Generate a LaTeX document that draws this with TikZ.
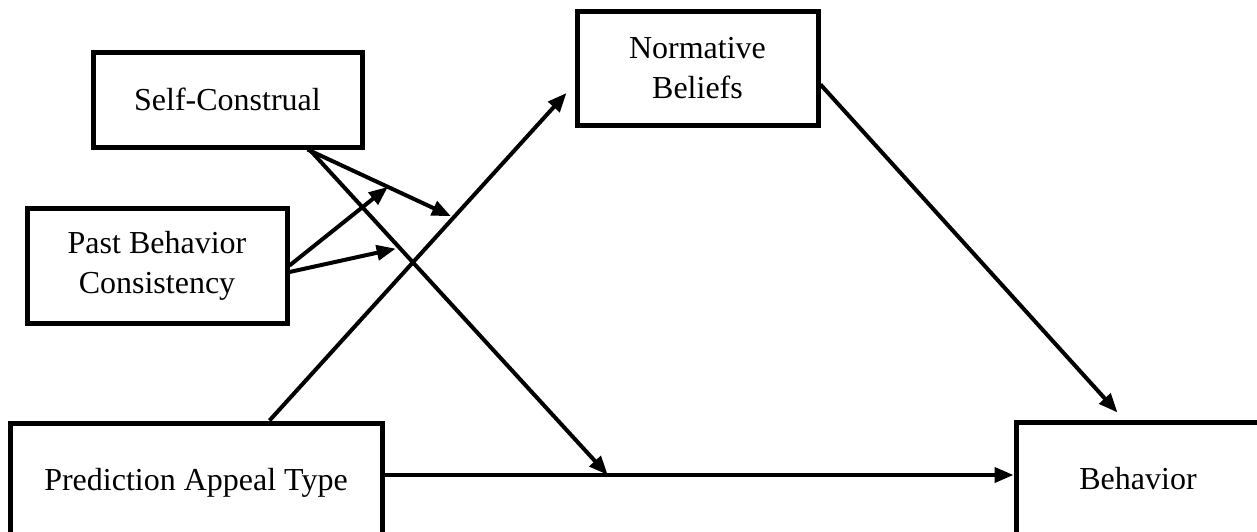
\documentclass[tikz,border=0pt]{standalone}
\usepackage{fontspec}
\setmainfont{Liberation Serif}
\usetikzlibrary{arrows.meta,calc}
\begin{document}
\begin{tikzpicture}[x=0.5pt,y=-0.5pt,
  box/.style={draw,line width=2.5pt,inner sep=0pt,align=center,font=\fontsize{16pt}{20pt}\selectfont},
  arr/.style={line width=2pt,-{Triangle[length=9.5pt,width=7.5pt]}}]
\useasboundingbox (0,0) rectangle (1257,531);
% boxes
\node[box,minimum width=134.5pt,minimum height=47.5pt] (sc) at (227.5,99.5) {Self-Construal};
\node[box,minimum width=130pt,minimum height=57.5pt] (pb) at (157,265.5) {Past Behavior\\Consistency};
\node[box,minimum width=120.5pt,minimum height=57pt] (nb) at (697.5,68) {Normative\\Beliefs};
\node[box,minimum width=186pt,minimum height=60pt] (pat) at (196,483) {\raisebox{3pt}{Prediction Appeal Type}};
\node[box,minimum width=127pt,minimum height=60pt] (b) at (1143,482) {\raisebox{3.5pt}{Behavior}\hspace*{5pt}};
% anchor points on boxes
\coordinate (pat1) at ($(pat.north west)+(262,0)$);
\coordinate (nbtip) at ($(nb.west)+(-8,25)$);
\coordinate (nb1) at ($(nb.north east)+(0,76)$);
\coordinate (btip) at ($(b.north west)+(104,-7)$);
\coordinate (h1) at ($(pat.east)+(0,-8)$);
\coordinate (sc1) at ($(sc.south west)+(217,0)$);
\coordinate (sc2) at ($(sc.south west)+(219,0)$);
\coordinate (pb1) at (pb.east);
\coordinate (pb2) at ($(pb.east)+(0,6.5)$);
% main paths
\draw[arr] (pat1) -- (nbtip);
\draw[arr] (nb1) -- (btip);
\draw[arr] (h1) -- (h1 -| b.west);
% moderation points
\path (pat1) -- (nbtip) coordinate[pos=0.62] (m1);
\path (h1) -- (h1 -| b.west) coordinate[pos=0.355] (m2);
\draw[arr,shorten >=1.5pt] (sc1) -- (m1);
\draw[arr] (sc2) -- (m2);
\path (sc1) -- (m1) coordinate[pos=0.55] (m3);
\path (sc2) -- (m2) coordinate[pos=0.302] (m4);
\draw[arr] (pb1) -- (m3);
\draw[arr,shorten >=2pt] (pb2) -- (m4);
\end{tikzpicture}
\end{document}
